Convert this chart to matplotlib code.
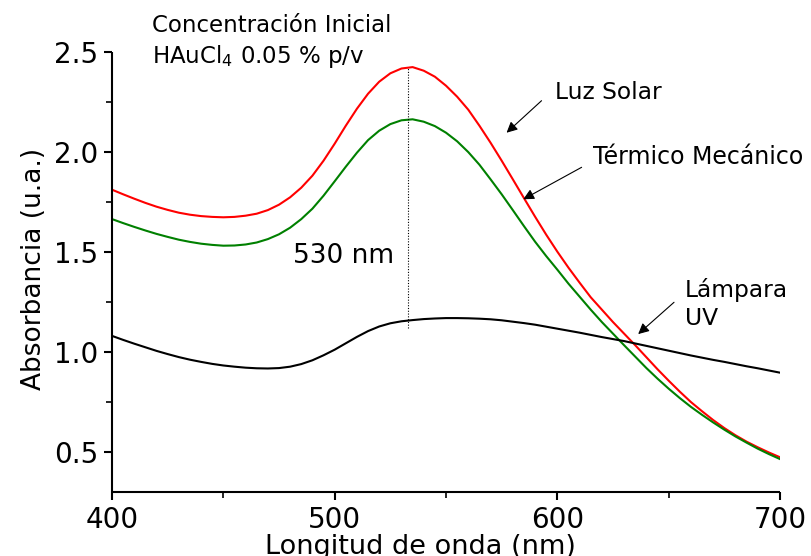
import matplotlib
matplotlib.use("Agg")
import matplotlib.pyplot as plt
from matplotlib.ticker import MultipleLocator

# Wavelength grid (nm), 5 nm steps
wavelength = list(range(400, 701, 5))

# Absorbance
luz_solar = [1.810, 1.787, 1.765, 1.744, 1.725, 1.709, 1.695, 1.685, 1.678, 1.674,
             1.672, 1.674, 1.680, 1.690, 1.708, 1.735, 1.772, 1.820, 1.880, 1.955,
             2.040, 2.130, 2.215, 2.290, 2.350, 2.392, 2.416, 2.423, 2.405, 2.375,
             2.330, 2.275, 2.210, 2.130, 2.045, 1.955, 1.862, 1.768, 1.675, 1.585,
             1.500, 1.420, 1.345, 1.272, 1.210, 1.148, 1.090, 1.032, 0.972, 0.912,
             0.855, 0.800, 0.748, 0.702, 0.658, 0.618, 0.582, 0.550, 0.522, 0.496,
             0.472]

termico_mecanico = [1.663, 1.643, 1.624, 1.606, 1.589, 1.574, 1.560, 1.549, 1.540, 1.534,
                    1.530, 1.531, 1.536, 1.546, 1.563, 1.587, 1.620, 1.663, 1.715, 1.780,
                    1.852, 1.925, 1.995, 2.058, 2.105, 2.138, 2.157, 2.162, 2.150, 2.128,
                    2.095, 2.052, 1.998, 1.935, 1.862, 1.787, 1.708, 1.628, 1.550, 1.478,
                    1.410, 1.340, 1.275, 1.210, 1.148, 1.090, 1.032, 0.975, 0.918, 0.865,
                    0.815, 0.768, 0.724, 0.684, 0.646, 0.610, 0.576, 0.545, 0.515, 0.488,
                    0.463]

lampara_uv = [1.079, 1.059, 1.040, 1.022, 1.004, 0.988, 0.973, 0.960, 0.949, 0.939,
              0.931, 0.925, 0.920, 0.917, 0.916, 0.918, 0.925, 0.938, 0.957, 0.982,
              1.010, 1.042, 1.074, 1.103, 1.126, 1.142, 1.152, 1.158, 1.163, 1.166,
              1.168, 1.168, 1.167, 1.165, 1.162, 1.157, 1.150, 1.143, 1.135, 1.125,
              1.115, 1.105, 1.095, 1.084, 1.073, 1.063, 1.053, 1.041, 1.029, 1.017,
              1.005, 0.993, 0.981, 0.970, 0.959, 0.949, 0.938, 0.927, 0.917, 0.906,
              0.895]

# Peak marker (dotted line)
peak_wl = 533
peak_range = [1.117, 2.422]

# Curve labels: (text, text position, arrow tail, arrow head)
labels = ["Luz Solar", "Térmico Mecánico", "Lámpara\nUV"]
label_pos = [(598.9, 2.262), (616.1, 1.938), (657.3, 1.134)]
arrow_tail = [(592.9, 2.255), (610.9, 1.922), (652.4, 1.247)]
arrow_head = [(577.2, 2.095), (584.7, 1.762), (636.3, 1.088)]

fig = plt.figure(figsize=(8.11, 5.56), dpi=100)
ax = fig.add_axes([0.1381, 0.1157, 0.8237, 0.7913])

ax.plot(wavelength, luz_solar, color="#ff0000", lw=1.5)
ax.plot(wavelength, termico_mecanico, color="#008000", lw=1.5)
ax.plot(wavelength, lampara_uv, color="black", lw=1.5)
ax.plot([peak_wl, peak_wl], peak_range, color="black", lw=0.8, ls=(0, (1, 1.5)))

ax.set_xlim(400, 700)
ax.set_ylim(0.3, 2.5)
ax.xaxis.set_major_locator(MultipleLocator(100))
ax.xaxis.set_minor_locator(MultipleLocator(50))
ax.yaxis.set_minor_locator(MultipleLocator(0.25))
ax.set_yticks([0.5, 1.0, 1.5, 2.0, 2.5])

ax.spines["top"].set_visible(False)
ax.spines["right"].set_visible(False)
for s in ["left", "bottom"]:
    ax.spines[s].set_linewidth(1.5)
    ax.spines[s].set_capstyle("butt")

ax.tick_params(which="major", direction="out", length=6, width=1.5, labelsize=20, pad=4)
ax.tick_params(which="minor", direction="out", length=4, width=1.2)

ax.set_xlabel("Longitud de onda (nm)", fontsize=19.5)
ax.xaxis.set_label_coords(0.461, -0.096)
ax.set_ylabel("Absorbancia (u.a.)", fontsize=19)
ax.yaxis.set_label_coords(-0.097, 0.506)

# Annotations
ax.text(418, 2.60, "Concentración Inicial", fontsize=16.5, va="baseline", ha="left")
ax.text(418, 2.442, "HAuCl$_4$ 0.05 % p/v", fontsize=16.5, va="baseline", ha="left")
ax.text(481.1, 1.442, "530 nm", fontsize=19, va="baseline", ha="left")

sizes = [16.8, 17, 16.8]
for txt, pos, tail, head, fs in zip(labels, label_pos, arrow_tail, arrow_head, sizes):
    ax.text(pos[0], pos[1], txt, fontsize=fs, va="baseline", ha="left",
            linespacing=1.25)
    ax.annotate("", xy=head, xytext=tail,
                arrowprops=dict(arrowstyle="-|>", color="black", lw=0.8,
                                mutation_scale=16, shrinkA=0, shrinkB=0))

fig.savefig("out.png", dpi=100)
